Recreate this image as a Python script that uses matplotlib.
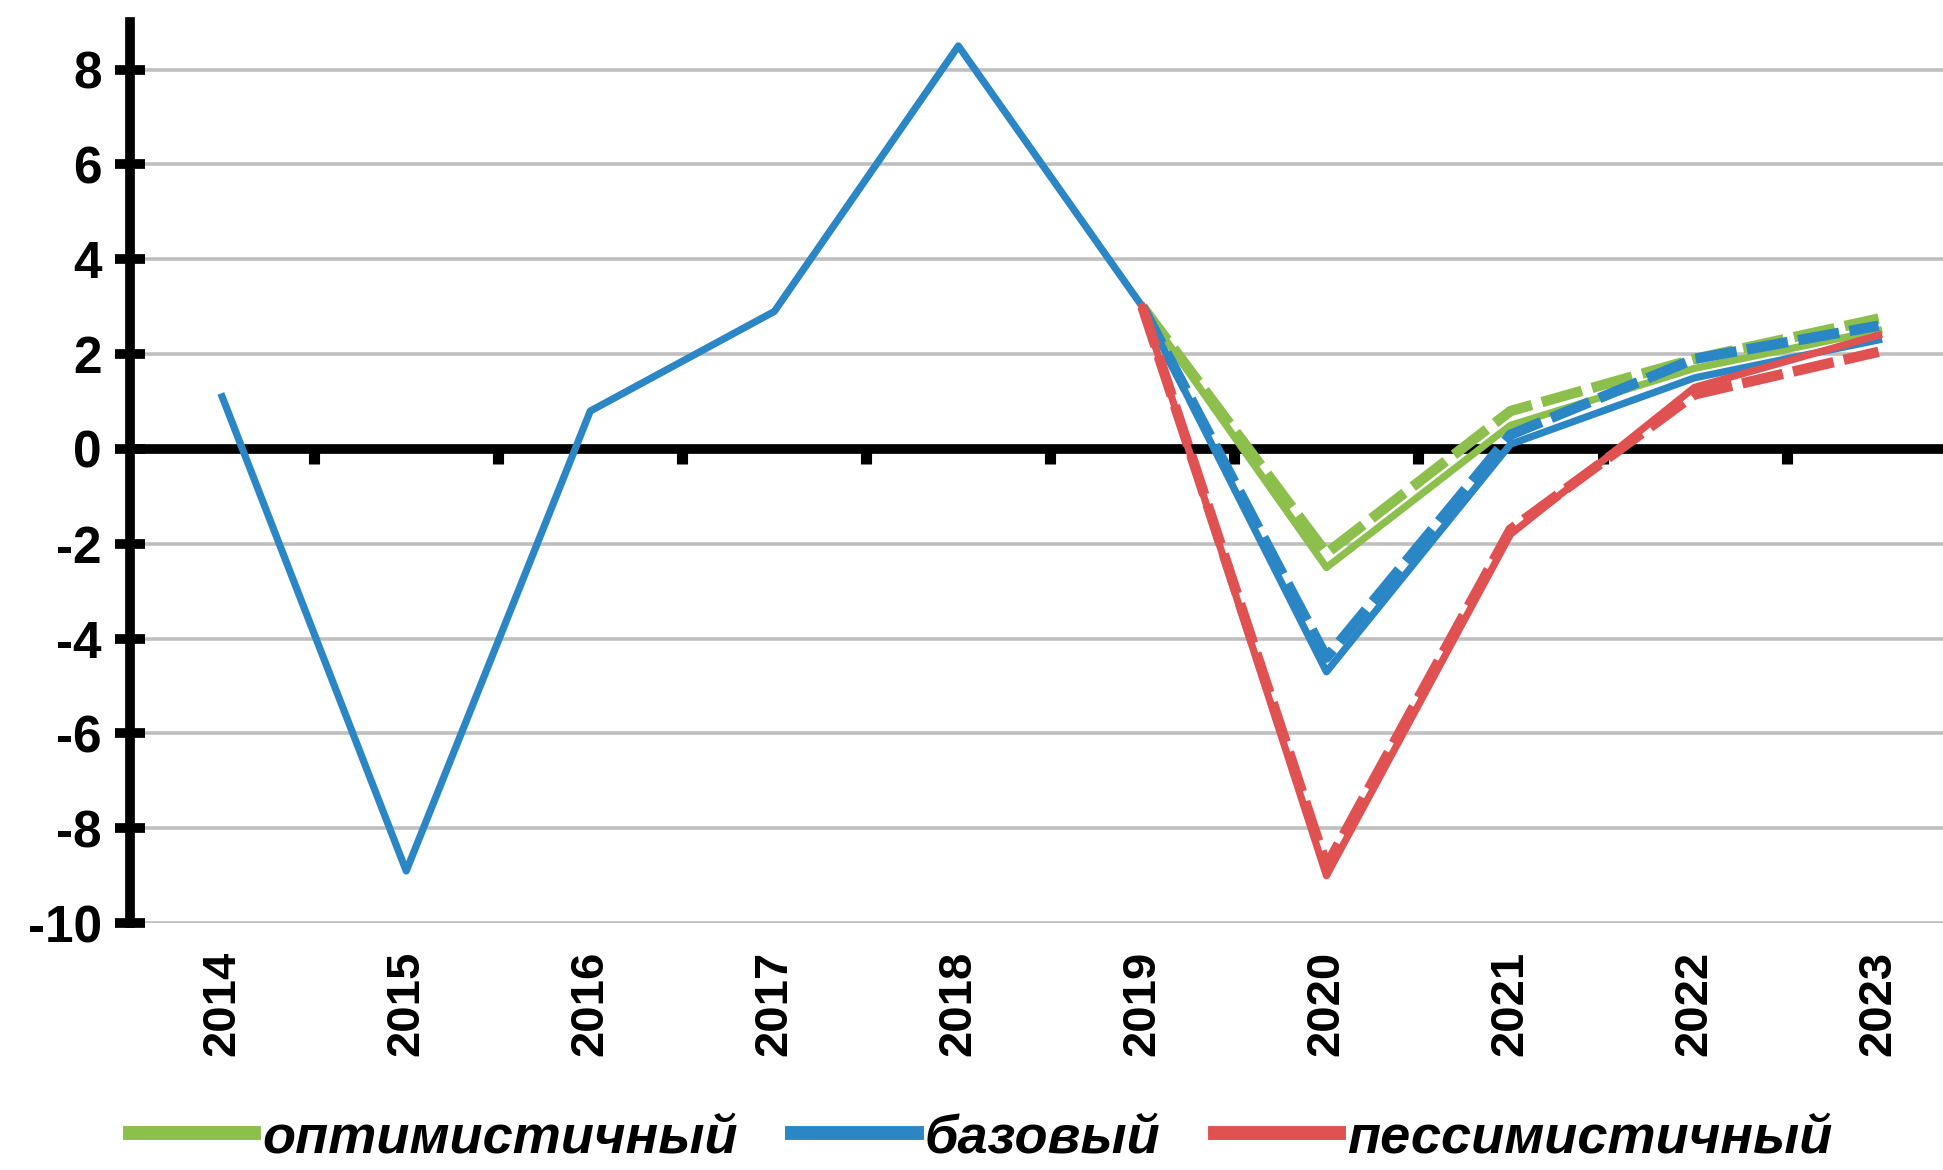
import numpy as np
import matplotlib
matplotlib.use("Agg")
import matplotlib.pyplot as plt
from matplotlib.lines import Line2D

years = [2014, 2015, 2016, 2017, 2018, 2019, 2020, 2021, 2022, 2023]
fc_years = [2019, 2020, 2021, 2022, 2023]

# history + base scenario (solid)
base = [1.1, -8.9, 0.8, 2.9, 8.5, 3.0, -4.7, 0.1, 1.5, 2.3]
# forecast scenarios, solid
optim = [3.0, -2.5, 0.5, 1.7, 2.5]
pessim = [3.0, -9.0, -1.8, 1.3, 2.4]
# forecast scenarios, dashed (alternative estimate)
optim_d = [3.0, -2.2, 0.8, 1.9, 2.75]
base_d = [3.0, -4.4, 0.3, 1.9, 2.6]
pessim_d = [3.0, -8.8, -1.7, 1.15, 2.05]

labels = ["оптимистичный", "базовый", "пессимистичный"]
c_green = "#8cbf4c"
c_blue = "#2b86c5"
c_red = "#e05252"

plt.rcParams['font.family'] = ['Liberation Sans', 'DejaVu Sans']
plt.rcParams['axes.unicode_minus'] = False

fig = plt.figure(figsize=(19.43, 11.70), dpi=100)
ax = fig.add_axes([0.067, 0.211, 0.933, 0.77])

x = np.arange(len(years))
xf = x[years.index(2019):]

lw = 5.2
dl = 7.5
ds = (4, 1.0)
ax.plot(xf, optim_d, color=c_green, lw=dl, dashes=ds, zorder=3)
ax.plot(xf, optim, color=c_green, lw=lw, zorder=3)
ax.plot(xf, base_d, color=c_blue, lw=dl, dashes=ds, zorder=4)
ax.plot(x, base, color=c_blue, lw=lw, zorder=4)
ax.plot(xf, pessim_d, color=c_red, lw=dl, dashes=ds, zorder=5)
ax.plot(xf, pessim, color=c_red, lw=lw, zorder=5)

ax.set_xlim(-0.5, 9.35)
ax.set_ylim(-10, 9)
ax.set_yticks(np.arange(-10, 9, 2))
ax.yaxis.grid(True, color="#bfbfbf", lw=2.6)
ax.set_axisbelow(True)

for s in ["top", "right"]:
    ax.spines[s].set_visible(False)
ax.spines["left"].set_linewidth(7)
ax.spines["left"].set_bounds(-10, 9)
ax.spines["bottom"].set_position(("data", 0))
ax.spines["bottom"].set_linewidth(7)
ax.spines["bottom"].set_zorder(2)

ax.tick_params(axis="y", direction="inout", length=21, width=7,
               labelsize=37, pad=10)
for t in ax.get_yticklabels():
    t.set_fontweight("bold")

ax.set_xticks(x)
ax.set_xticklabels([])
ax.tick_params(axis="x", which="major", length=0)
ax.set_xticks(x[:-1] + 0.5, minor=True)
ax.tick_params(axis="x", which="minor", direction="out", length=11, width=8)

sec = ax.secondary_xaxis(0.0)
sec.set_xticks(x)
sec.set_xticklabels([str(y) for y in years], rotation=90, fontsize=34,
                    fontweight="bold")
sec.tick_params(length=0, pad=20)
sec.spines["bottom"].set_visible(False)

handles = [Line2D([], [], color=c, lw=10) for c in (c_green, c_blue, c_red)]
fig.legend(handles, labels, loc="lower center", bbox_to_anchor=(0.505, -0.036),
           ncol=3, frameon=False, handlelength=2.3, handletextpad=0.15,
           columnspacing=1.0,
           prop={"weight": "bold", "style": "italic", "size": 39})

fig.savefig("out.png", dpi=100)
